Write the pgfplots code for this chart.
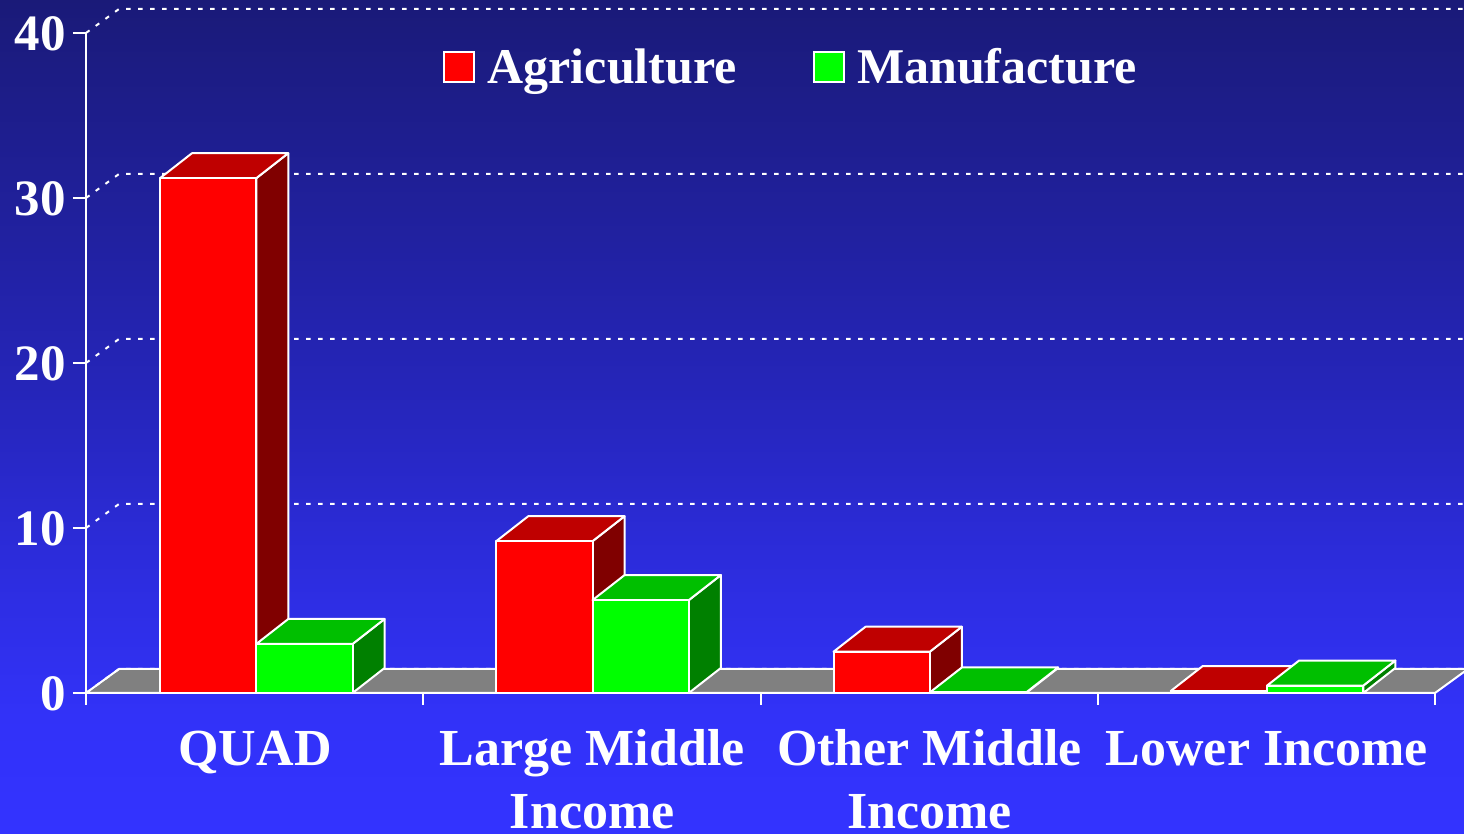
\documentclass[border=0pt]{standalone}
\usepackage{fontspec}
\setmainfont{Liberation Serif}
\usepackage{pgfplots}
\pgfplotsset{compat=1.18}

\definecolor{agfront}{RGB}{255,0,0}
\definecolor{agtop}{RGB}{191,0,0}
\definecolor{agside}{RGB}{128,0,0}
\definecolor{mffront}{RGB}{0,255,0}
\definecolor{mftop}{RGB}{0,191,0}
\definecolor{mfside}{RGB}{0,128,0}
\definecolor{floorgrey}{RGB}{128,128,128}

% Navy to bright blue backdrop; the 25bp to 75bp stretch spans the page height
\pgfdeclareverticalshading{backdrop}{100bp}{
  rgb(0bp)=(0.2,0.2,1);
  rgb(25bp)=(0.2,0.2,1);
  rgb(32bp)=(0.196,0.196,0.973);
  rgb(39bp)=(0.18,0.18,0.894);
  rgb(50bp)=(0.149,0.149,0.745);
  rgb(75bp)=(0.102,0.102,0.471);
  rgb(100bp)=(0.102,0.102,0.471)}

% Bar width and oblique depth, in axis units
\def\barw{0.2855}
\def\depthx{0.0949}
\def\depthy{1.515}

% A bar with three visible faces: left edge, value, front, top and side colours
\newcommand{\cuboid}[5]{%
  \pgfmathsetmacro\xa{#1}%
  \pgfmathsetmacro\xb{#1+\barw}%
  \pgfmathsetmacro\xc{#1+\depthx}%
  \pgfmathsetmacro\xd{#1+\barw+\depthx}%
  \pgfmathsetmacro\yt{#2+\depthy}%
  \edef\faces{%
    \noexpand\addplot[face,fill=#5] coordinates {(\xb,0) (\xd,\depthy) (\xd,\yt) (\xb,#2)} -- cycle;
    \noexpand\addplot[face,fill=#4] coordinates {(\xa,#2) (\xc,\yt) (\xd,\yt) (\xb,#2)} -- cycle;
    \noexpand\addplot[face,fill=#3] coordinates {(\xa,0) (\xa,#2) (\xb,#2) (\xb,0)} -- cycle;
  }%
  \faces
}

\begin{document}
\begin{tikzpicture}
\path[use as bounding box,clip] (0,0) rectangle (732pt,417pt);
\shade[shading=backdrop] (0,0) rectangle (732pt,417pt);
\begin{axis}[
  at={(43pt,70.5pt)},
  scale only axis,
  width=674.5pt,
  height=330pt,
  xmin=0,xmax=4,
  ymin=0,ymax=40,
  clip=false,
  axis on top,
  axis x line=bottom,
  axis y line=left,
  axis line style={white,line width=1pt,-},
  tick align=outside,
  tick style={white,line width=1pt},
  major tick length=6.5pt,
  minor tick length=6pt,
  major x tick style={draw=none},
  xtick={0.5,1.5,2.5,3.5},
  minor xtick={0,1,2,3,4},
  xticklabels={QUAD\vphantom{d},Large Middle\\Income,Other Middle\\Income,Lower Income\vphantom{d}},
  ytick={0,10,20,30,40},
  /pgf/number format/assume math mode=true,
  xticklabel style={white,font=\fontsize{26}{31.5}\selectfont\bfseries,align=center,anchor=north,inner sep=0pt,yshift=-11.3pt,xshift=0.2pt},
  yticklabel style={white,font=\fontsize{25.5}{30}\selectfont\bfseries,anchor=east,inner sep=0pt,xshift=-3.5pt,yshift=-0.5pt},
  legend style={at={(0.2645,0.948)},anchor=west,draw=none,fill=none,inner sep=0pt,
    text=white,font=\fontsize{25}{30}\selectfont\bfseries,legend columns=2,
    /tikz/every even column/.append style={column sep=36pt}},
  legend cell align=left,
  legend image code/.code={\path[#1,draw=white,line width=1pt] (0pt,-7.5pt) rectangle (15pt,7.5pt);\path (19.5pt,0pt);},
  face/.style={draw=white,line width=1pt,line join=round,forget plot},
  gridback/.style={white,line width=1pt,dash pattern=on 2.2pt off 3.8pt,forget plot},
]
% Dotted gridlines running up the side wall and along the back
\addplot[gridback] coordinates {(0,10) (0.0979,11.4545) (4.1,11.4545)};
\addplot[gridback] coordinates {(0,20) (0.0979,21.4545) (4.1,21.4545)};
\addplot[gridback] coordinates {(0,30) (0.0979,31.4545) (4.1,31.4545)};
\addplot[gridback] coordinates {(0,40) (0.0979,41.4545) (4.1,41.4545)};
% Grey floor
\addplot[face,fill=floorgrey] coordinates {(0,0) (0.0979,1.4545) (4.0979,1.4545) (4,0)} -- cycle;
\addplot[gridback] coordinates {(0,0) (0.0979,1.4545) (4.1,1.4545)};
% Agriculture and Manufacture bars
\cuboid{0.2194}{31.2}{agfront}{agtop}{agside}
\cuboid{0.5049}{2.97}{mffront}{mftop}{mfside}
\cuboid{1.2165}{9.2}{agfront}{agtop}{agside}
\cuboid{1.5020}{5.63}{mffront}{mftop}{mfside}
\cuboid{2.2165}{2.5}{agfront}{agtop}{agside}
\cuboid{2.5020}{0.03}{mffront}{mftop}{mfside}
\cuboid{3.2165}{0.12}{agfront}{agtop}{agside}
\cuboid{3.5020}{0.45}{mffront}{mftop}{mfside}
\addlegendimage{fill=agfront}
\addlegendentry{Agriculture}
\addlegendimage{fill=mffront}
\addlegendentry{Manufacture}
\end{axis}
\end{tikzpicture}
\end{document}
